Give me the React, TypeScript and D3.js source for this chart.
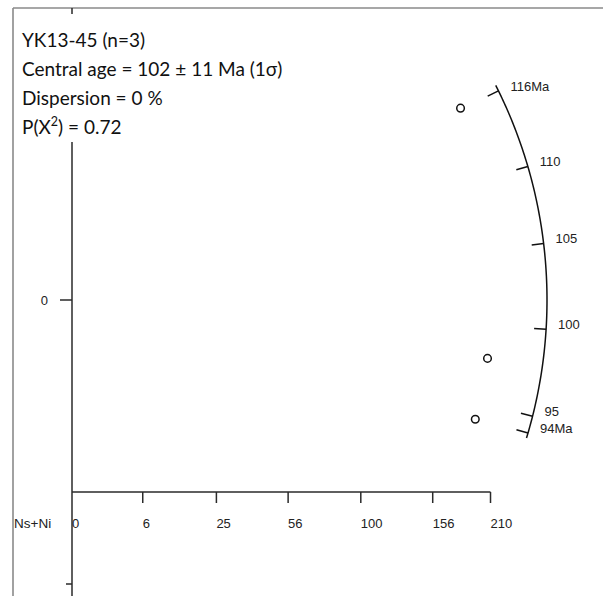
import React from "react";
import * as d3 from "d3";

// ---- data ----
const sampleName = "YK13-45";
const grainCount = 3;
const centralAge = 102;
const centralAgeErr = 11;
const dispersion = 0;
const pChi2 = 0.72;

const grainAges = [116.1, 97.9, 93.9]; // Ma
const grainCounts = [181, 207, 195]; // Ns+Ni

const countTicks = [0, 6, 25, 56, 100, 156, 210];
const ageTicks = [94, 95, 100, 105, 110, 116];
const ageTickLabels = ["94Ma", "95", "100", "105", "110", "116Ma"];
const arcAgeRange = [93.7, 116.5];
const refAge = 101.67; // age at zero slope

const W = 603;
const H = 596;

export default function App() {
  const ox = 72;
  const oy = 300;
  const R = 475;
  const K = 3.72;

  const x = d3.scaleSqrt().domain([0, 210]).range([ox, ox + 28.88 * Math.sqrt(210)]);
  const slope = (t: number) => K * (Math.log(t) - Math.log(refAge));
  const angle = (t: number) => Math.atan(slope(t));

  const arcPts = d3.range(0, 101).map((i) => {
    const t = arcAgeRange[0] + ((arcAgeRange[1] - arcAgeRange[0]) * i) / 100;
    const a = angle(t);
    return [ox + R * Math.cos(a), oy - R * Math.sin(a)] as [number, number];
  });
  const arcPath = d3.line()(arcPts) || "";

  const font = "'Liberation Sans', Arial, sans-serif";
  const titleFont = "Lato, 'Open Sans', sans-serif";
  const axisColor = "#2a2a2a";

  return (
    <svg width={W} height={H} style={{ position: "absolute", left: 0, top: 0 }}>
      <rect x={0} y={0} width={W} height={H} fill="#fff" />
      {/* frame */}
      <line x1={13} y1={8} x2={W} y2={8} stroke="#8a8a8a" strokeWidth={1.6} />
      <line x1={13} y1={8} x2={13} y2={H} stroke="#8a8a8a" strokeWidth={1.6} />

      {/* y axis */}
      <line x1={ox} y1={8} x2={ox} y2={H} stroke={axisColor} strokeWidth={1.5} />
      <line x1={ox - 12} y1={oy} x2={ox} y2={oy} stroke={axisColor} strokeWidth={1.5} />
      <line x1={ox - 6} y1={584} x2={ox} y2={584} stroke={axisColor} strokeWidth={1.5} />
      <text x={48} y={305} fontFamily={font} fontSize={13} textAnchor="end" fill="#222">
        0
      </text>

      {/* x axis */}
      <line x1={ox} y1={492} x2={x(210)} y2={492} stroke={axisColor} strokeWidth={1.5} />
      {countTicks.map((c) => (
        <g key={c}>
          {c > 0 && (
            <line x1={x(c)} y1={492} x2={x(c)} y2={503} stroke={axisColor} strokeWidth={1.5} />
          )}
          <text x={x(c)} y={528} fontFamily={font} fontSize={13} fill="#222">
            {c}
          </text>
        </g>
      ))}
      <text x={14} y={528} fontFamily={font} fontSize={13.5} fill="#222">
        Ns+Ni
      </text>

      {/* arc */}
      <path d={arcPath} fill="none" stroke="#111" strokeWidth={1.5} />
      {ageTicks.map((t, i) => {
        const a = angle(t);
        const x1 = ox + R * Math.cos(a);
        const y1 = oy - R * Math.sin(a);
        const x2 = ox + (R - 12) * Math.cos(a);
        const y2 = oy - (R - 12) * Math.sin(a);
        return (
          <g key={t}>
            <line x1={x1} y1={y1} x2={x2} y2={y2} stroke="#111" strokeWidth={1.5} />
            <text x={x1 + 12} y={y1} fontFamily={font} fontSize={13} fill="#222">
              {ageTickLabels[i]}
            </text>
          </g>
        );
      })}

      {/* points */}
      {grainAges.map((t, i) => {
        const px = x(grainCounts[i]);
        const py = oy - (px - ox) * slope(t);
        return <circle key={i} cx={px} cy={py} r={3.8} fill="none" stroke="#111" strokeWidth={1.5} />;
      })}

      {/* legend */}
      <rect x={16} y={14} width={272} height={128} fill="#fff" />
      <g fontFamily={titleFont} fontSize={19} fill="#111">
        <text x={22} y={47}>{`${sampleName} (n=${grainCount})`}</text>
        <text x={22} y={76}>{`Central age = ${centralAge} \u00b1 ${centralAgeErr} Ma (1\u03c3)`}</text>
        <text x={22} y={105}>{`Dispersion = ${dispersion} %`}</text>
        <text x={22} y={134}>
          P(X<tspan dy={-8} fontSize={12.5}>2</tspan>
          <tspan dy={8}>{`) = ${pChi2}`}</tspan>
        </text>
      </g>
    </svg>
  );
}
